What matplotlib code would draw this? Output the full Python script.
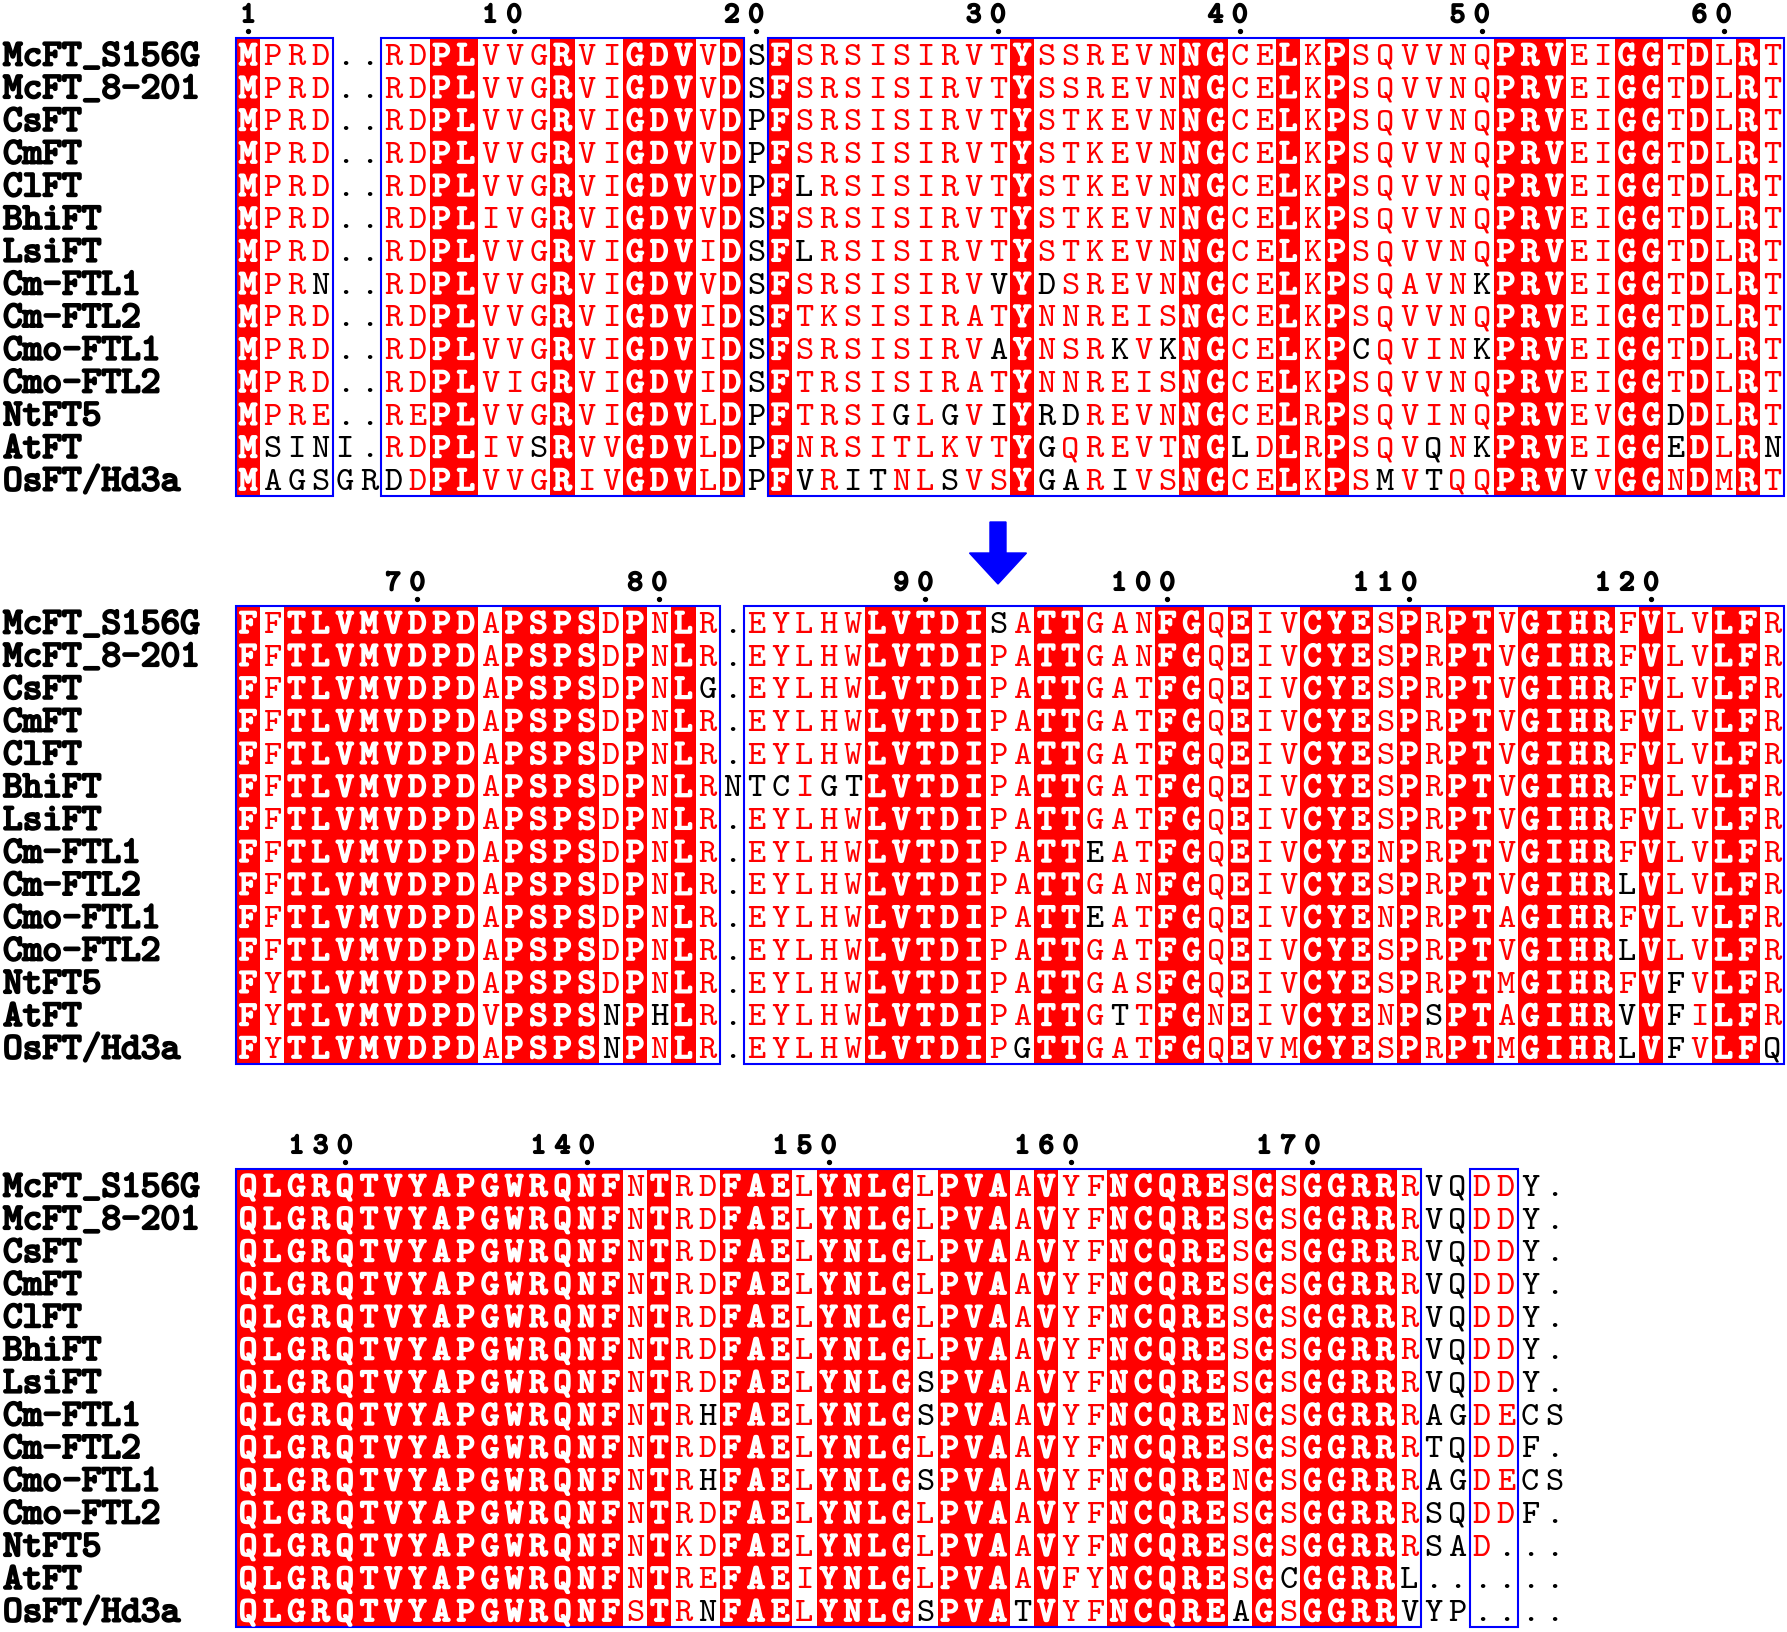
import matplotlib
matplotlib.use("Agg")
import matplotlib.pyplot as plt
from matplotlib.patches import Rectangle, FancyArrow
import matplotlib.patheffects as pe

# sequence names
names = ["McFT_S156G", "McFT_8-201", "CsFT", "CmFT", "ClFT", "BhiFT", "LsiFT",
         "Cm-FTL1", "Cm-FTL2", "Cmo-FTL1", "Cmo-FTL2", "NtFT5", "AtFT", "OsFT/Hd3a"]

# alignment, upper case = similar (red), lower case = not similar (black), '.' = gap
block1 = [
    "MPRD..RDPLVVGRVIGDVVDsFSRSISIRVTYSSREVNNGCELKPSQVVNQPRVEIGGTDLRT",
    "MPRD..RDPLVVGRVIGDVVDsFSRSISIRVTYSSREVNNGCELKPSQVVNQPRVEIGGTDLRT",
    "MPRD..RDPLVVGRVIGDVVDpFSRSISIRVTYSTKEVNNGCELKPSQVVNQPRVEIGGTDLRT",
    "MPRD..RDPLVVGRVIGDVVDpFSRSISIRVTYSTKEVNNGCELKPSQVVNQPRVEIGGTDLRT",
    "MPRD..RDPLVVGRVIGDVVDpFlRSISIRVTYSTKEVNNGCELKPSQVVNQPRVEIGGTDLRT",
    "MPRD..RDPLIVGRVIGDVVDsFSRSISIRVTYSTKEVNNGCELKPSQVVNQPRVEIGGTDLRT",
    "MPRD..RDPLVVGRVIGDVIDsFlRSISIRVTYSTKEVNNGCELKPSQVVNQPRVEIGGTDLRT",
    "MPRn..RDPLVVGRVIGDVVDsFSRSISIRVvYdSREVNNGCELKPSQAVNkPRVEIGGTDLRT",
    "MPRD..RDPLVVGRVIGDVIDsFTKSISIRATYNNREISNGCELKPSQVVNQPRVEIGGTDLRT",
    "MPRD..RDPLVVGRVIGDVIDsFSRSISIRVaYNSRkVkNGCELKPcQVINkPRVEIGGTDLRT",
    "MPRD..RDPLVIGRVIGDVIDsFTRSISIRATYNNREISNGCELKPSQVVNQPRVEIGGTDLRT",
    "MPRE..REPLVVGRVIGDVLDpFTRSIgLgViYrdREVNNGCELRPSQVINQPRVEVGGdDLRT",
    "Msini.RDPLIVsRVVGDVLDpFNRSITLKVTYgQREVTNGlDLRPSQVqNkPRVEIGGeDLRn",
    "MagsgrdDPLVVGRIVGDVLDpFvRitNLsVSYgaRiVSNGCELKPSmVtQQPRVvVGGNDMRT",
]
block2 = [
    "FFTLVMVDPDAPSPSDPNLR.EYLHWLVTDIsATTGANFGQEIVCYESPRPTVGIHRFVLVLFR",
    "FFTLVMVDPDAPSPSDPNLR.EYLHWLVTDIPATTGANFGQEIVCYESPRPTVGIHRFVLVLFR",
    "FFTLVMVDPDAPSPSDPNLg.EYLHWLVTDIPATTGATFGQEIVCYESPRPTVGIHRFVLVLFR",
    "FFTLVMVDPDAPSPSDPNLR.EYLHWLVTDIPATTGATFGQEIVCYESPRPTVGIHRFVLVLFR",
    "FFTLVMVDPDAPSPSDPNLR.EYLHWLVTDIPATTGATFGQEIVCYESPRPTVGIHRFVLVLFR",
    "FFTLVMVDPDAPSPSDPNLRntcIgtLVTDIPATTGATFGQEIVCYESPRPTVGIHRFVLVLFR",
    "FFTLVMVDPDAPSPSDPNLR.EYLHWLVTDIPATTGATFGQEIVCYESPRPTVGIHRFVLVLFR",
    "FFTLVMVDPDAPSPSDPNLR.EYLHWLVTDIPATTeATFGQEIVCYENPRPTVGIHRFVLVLFR",
    "FFTLVMVDPDAPSPSDPNLR.EYLHWLVTDIPATTGANFGQEIVCYESPRPTVGIHRlVLVLFR",
    "FFTLVMVDPDAPSPSDPNLR.EYLHWLVTDIPATTeATFGQEIVCYENPRPTAGIHRFVLVLFR",
    "FFTLVMVDPDAPSPSDPNLR.EYLHWLVTDIPATTGATFGQEIVCYESPRPTVGIHRlVLVLFR",
    "FYTLVMVDPDAPSPSDPNLR.EYLHWLVTDIPATTGASFGQEIVCYESPRPTMGIHRFVfVLFR",
    "FYTLVMVDPDVPSPSnPhLR.EYLHWLVTDIPATTGtTFGNEIVCYENPsPTAGIHRvVfILFR",
    "FYTLVMVDPDAPSPSnPNLR.EYLHWLVTDIPgTTGATFGQEVMCYESPRPTMGIHRlVfVLFq",
]
block3 = [
    "QLGRQTVYAPGWRQNFNTRDFAELYNLGLPVAAVYFNCQRESGSGGRRRvqDDy.",
    "QLGRQTVYAPGWRQNFNTRDFAELYNLGLPVAAVYFNCQRESGSGGRRRvqDDy.",
    "QLGRQTVYAPGWRQNFNTRDFAELYNLGLPVAAVYFNCQRESGSGGRRRvqDDy.",
    "QLGRQTVYAPGWRQNFNTRDFAELYNLGLPVAAVYFNCQRESGSGGRRRvqDDy.",
    "QLGRQTVYAPGWRQNFNTRDFAELYNLGLPVAAVYFNCQRESGSGGRRRvqDDy.",
    "QLGRQTVYAPGWRQNFNTRDFAELYNLGLPVAAVYFNCQRESGSGGRRRvqDDy.",
    "QLGRQTVYAPGWRQNFNTRDFAELYNLGsPVAAVYFNCQRESGSGGRRRvqDDy.",
    "QLGRQTVYAPGWRQNFNTRhFAELYNLGsPVAAVYFNCQRENGSGGRRRagDEcs",
    "QLGRQTVYAPGWRQNFNTRDFAELYNLGLPVAAVYFNCQRESGSGGRRRtqDDf.",
    "QLGRQTVYAPGWRQNFNTRhFAELYNLGsPVAAVYFNCQRENGSGGRRRagDEcs",
    "QLGRQTVYAPGWRQNFNTRDFAELYNLGLPVAAVYFNCQRESGSGGRRRsqDDf.",
    "QLGRQTVYAPGWRQNFNTKDFAELYNLGLPVAAVYFNCQRESGSGGRRRsaD...",
    "QLGRQTVYAPGWRQNFNTREFAEIYNLGLPVAAVFYNCQRESGcGGRRl......",
    "QLGRQTVYAPGWRQNFSTRnFAELYNLGsPVAtVYFNCQREaGSGGRRvyp....",
]
blocks = [block1, block2, block3]

W, H = 1787, 1632
fig = plt.figure(figsize=(W / 100, H / 100), dpi=100)
ax = fig.add_axes([0, 0, 1, 1])
ax.set_xlim(0, W)
ax.set_ylim(H, 0)
ax.axis("off")

x0 = 236
cw = 24.19
rh = 32.7
tops = [38, 606, 1169]
RED = "#ff0000"
BLUE = "#0000ff"
mono = "cmtt10"

res_fs = 25
lab_fs = 27
num_fs = 21
white_bold = [pe.withStroke(linewidth=1.4, foreground="white")]
black_bold = [pe.withStroke(linewidth=1.5, foreground="black")]


def xc(c):
    return x0 + (c + 0.5) * cw


resnum = 1
for rows, top in zip(blocks, tops):
    ncol = len(rows[0])
    nrow = len(rows)
    ys = [top + (i + 0.5) * rh for i in range(nrow)]

    # names
    for name, y in zip(names, ys):
        ax.text(3, y + 11, name, fontfamily=mono, fontsize=lab_fs, ha="left",
                va="baseline", color="black", path_effects=black_bold)

    ident = []
    boxed = []
    for c in range(ncol):
        col = [r[c] for r in rows]
        ident.append(col[0].isupper() and all(ch == col[0] for ch in col))
        boxed.append(any(ch.isupper() for ch in col))

    # strictly conserved columns
    for c in range(ncol):
        if ident[c]:
            ax.add_patch(Rectangle((x0 + c * cw, top), cw, nrow * rh,
                                   facecolor=RED, edgecolor="none", zorder=1))

    # blue frames around similar stretches
    c = 0
    while c < ncol:
        if boxed[c]:
            e = c
            while e + 1 < ncol and boxed[e + 1]:
                e += 1
            ax.add_patch(Rectangle((x0 + c * cw, top), (e - c + 1) * cw, nrow * rh,
                                   fill=False, edgecolor=BLUE, lw=1.5, zorder=3))
            c = e + 1
        else:
            c += 1

    # residues
    for r, y in zip(rows, ys):
        for c, ch in enumerate(r):
            if ident[c]:
                kw = dict(color="white", path_effects=white_bold)
            elif ch.isupper():
                kw = dict(color=RED)
            else:
                kw = dict(color="black")
            ax.text(xc(c), y + 10.5, ch.upper(), ha="center", va="baseline",
                    fontfamily=mono, fontsize=res_fs, zorder=4, **kw)

    # numbering along the first sequence
    for c, ch in enumerate(rows[0]):
        if ch == ".":
            continue
        if resnum == 1 or resnum % 10 == 0:
            s = str(resnum)
            for k, d in enumerate(s):
                ax.text(xc(c - len(s) + 1 + k), top - 16, d, ha="center",
                        va="baseline", fontfamily=mono, fontsize=num_fs,
                        color="black", path_effects=black_bold)
            ax.plot(xc(c), top - 7, "o", ms=2.8, color="black")
        resnum += 1

    # mutated site between the two McFT variants
    for c in range(ncol):
        if rows[0][c].upper() != rows[1][c].upper():
            ax.add_patch(FancyArrow(xc(c), top - 84, 0, 62, width=16, head_width=57,
                                    head_length=31, length_includes_head=True,
                                    color=BLUE, zorder=5))

fig.savefig("out.png", dpi=100)
